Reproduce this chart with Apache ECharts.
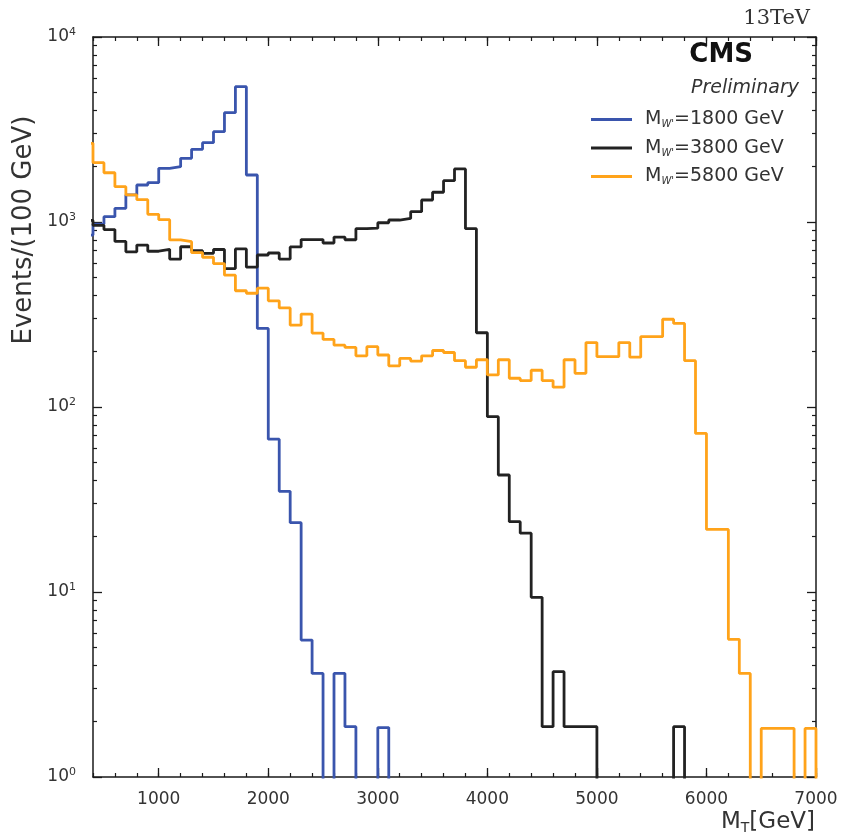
<!DOCTYPE html>
<html>
<head>
<meta charset="utf-8">
<script src="https://cdn.jsdelivr.net/npm/echarts@6/dist/echarts.min.js"></script>
<style>
html,body{margin:0;padding:0;background:#fff;}
#chart{width:844px;height:836px;}
</style>
</head>
<body>
<div id="chart"></div>
<script>
// 100 GeV bins, the first one is 300-400 GeV (only its edge shows at the left border)
let binStart=300;
let binWidth=100;
let masses=['1800','3800','5800'];
let colors=['#3a55ad','#222222','#ffa31a'];

let w1800=[850,975,1069,1186,1400,1585,1631,1951,1991,2209,2470,2685,3077,3898,5386,1795,
    266,67,35,23.7,5.5,3.63,0,3.63,1.87,0,0,1.85,
    0,0,0,0,0,0,0,0,0,0,0,0,0,0,0,0,0,0,0,0,0,0,0,0,0,0,0,0,0,0,0,0,0,0,0,0,0];
let w3800=[1020,960,910,785,690,750,695,712,630,735,700,677,710,560,715,570,663,680,630,733,
    804,804,770,829,802,920,926,991,1025,1046,1137,1315,1448,1672,1935,920,252,
    88.6,42.9,24.0,20.8,9.36,1.87,3.71,1.87,1.87,1.87,
    0,0,0,0,0,0,0,1.87,0,0,0,0,0,0,0,0,0,0,0,0];
let w5800=[2663,2093,1846,1552,1400,1320,1100,1030,800,783,683,645,595,516,425,412,439,375,343,277,
    318,251,232,216,210,189,212,191,167,183,177,189,202,197,178,164,180,149,180,143,
    139,158,139,128,180,152,223,187,187,223,186,240,240,298,283,178,72,21.8,21.8,5.55,
    3.63,0,1.83,1.83,1.83,0,1.83];

let majorX=[1000,2000,3000,4000,5000,6000,7000];
let majorY=[1,10,100,1000,10000];
let minorY=[];
for(let d=1;d<10000;d*=10){
    for(let k=2;k<10;k++) minorY.push(k*d);
}

let axisCol='#1a1a1a';
let textCol='#333';
let font='DejaVu Sans';

// empty bins go below the log axis and get clipped, like the drops to the floor in the original
function steps(vals){
    let pts=vals.map((v,i)=>[binStart+i*binWidth, v>0?v:0.1]);
    pts.push([binStart+vals.length*binWidth,0.1]);
    return pts;
}

function xAx(pos,major){
    return {
        type:'value',min:400,max:7000,position:pos,
        interval:major?undefined:200,
        axisLine:{show:major,lineStyle:{color:axisCol,width:1.5}},
        axisTick:major
            ?{inside:true,length:9,customValues:majorX,lineStyle:{color:axisCol,width:1.3}}
            :{inside:true,length:4,lineStyle:{color:axisCol,width:1.2}},
        axisLabel:(major&&pos=='bottom')
            ?{customValues:majorX,margin:14,fontSize:17,color:textCol,fontFamily:font,
              formatter:function(v){return String(v);}}
            :{show:false},
        splitLine:{show:false}
    };
}
function yAx(pos,major){
    return {
        type:'log',logBase:10,min:1,max:10000,position:pos,
        axisLine:{show:major,lineStyle:{color:axisCol,width:1.5}},
        axisTick:major
            ?{inside:true,length:9,customValues:majorY,lineStyle:{color:axisCol,width:1.3}}
            :{inside:true,length:4,customValues:minorY,lineStyle:{color:axisCol,width:1.2}},
        axisLabel:(major&&pos=='left')
            ?{customValues:majorY,margin:17,color:textCol,fontFamily:font,
              formatter:function(v){
                  return '{b|10}{s|'+Math.round(Math.log10(v))+'}';
              },
              rich:{
                  b:{fontSize:17,lineHeight:20,color:textCol,fontFamily:font},
                  s:{fontSize:11,lineHeight:10,verticalAlign:'top',color:textCol,fontFamily:font}
              }}
            :{show:false},
        splitLine:{show:false}
    };
}

let series=[w1800,w3800,w5800].map((vals,i)=>({
    name:masses[i],
    type:'line',
    step:'end',
    data:steps(vals),
    showSymbol:false,
    symbol:'none',
    clip:true,
    lineStyle:{color:colors[i],width:2.8},
    itemStyle:{color:colors[i]},
    animation:false
}));

let myChart=echarts.init(document.getElementById('chart'));
let option={
    backgroundColor:'#fff',
    animation:false,
    grid:{left:93,right:28,top:37,bottom:59},
    xAxis:[xAx('bottom',true),xAx('bottom',false),xAx('top',true),xAx('top',false)],
    yAxis:[yAx('left',true),yAx('left',false),yAx('right',true),yAx('right',false)],
    legend:{
        orient:'vertical',left:586,top:105,
        itemWidth:41,itemHeight:3,itemGap:9,icon:'rect',
        data:masses,
        formatter:function(name){
            return "{m|M}{s|W'}{m|="+name+" GeV}";
        },
        textStyle:{
            padding:[0,0,0,8],
            rich:{
                m:{fontSize:19,lineHeight:20,color:textCol,fontFamily:font},
                s:{fontSize:10,lineHeight:10,verticalAlign:'bottom',color:textCol,fontFamily:font,fontStyle:'italic'}
            }
        }
    },
    graphic:[
        {type:'text',right:844-810,top:8,style:{text:'13TeV',font:'21px "DejaVu Serif"',fill:textCol}},
        {type:'text',x:753,y:55,style:{text:'CMS',font:'bold 26px "DejaVu Sans"',fill:'#111',align:'right',verticalAlign:'middle'}},
        {type:'text',x:799,y:88,style:{text:'Preliminary',font:'italic 19px "DejaVu Sans"',fill:textCol,align:'right',verticalAlign:'middle'}},
        {type:'text',x:24,y:230,rotation:Math.PI/2,
         style:{text:'Events/(100 GeV)',font:'26px "DejaVu Sans"',fill:textCol,align:'center',verticalAlign:'middle'}},
        {type:'text',x:815,y:822,
         style:{text:'{a|M}{b|T}{a|[GeV]}',align:'right',verticalAlign:'middle',
                rich:{
                    a:{fontSize:23,lineHeight:26,fontFamily:font,fill:textCol,color:textCol},
                    b:{fontSize:14,lineHeight:14,verticalAlign:'bottom',fontFamily:font,fill:textCol,color:textCol}
                }}}
    ],
    series:series.map(s=>Object.assign(s,{xAxisIndex:0,yAxisIndex:0}))
};
myChart.setOption(option);
</script>
</body>
</html>
